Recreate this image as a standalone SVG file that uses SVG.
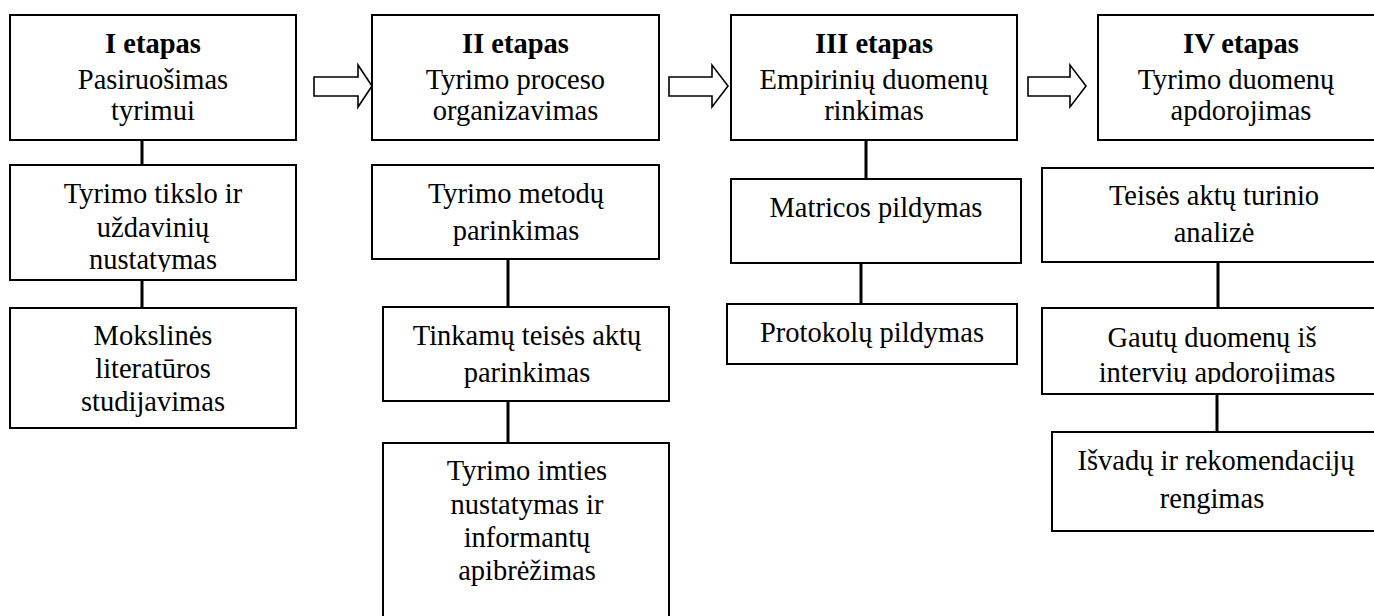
<svg xmlns="http://www.w3.org/2000/svg" width="1374" height="616" viewBox="0 0 1374 616">
<style>
.box{fill:#fff;stroke:#000;stroke-width:2}
.t{font-family:'Liberation Serif','DejaVu Serif',serif;font-size:28.5px;fill:#000;text-anchor:middle}
.b{font-weight:bold}
.c{stroke:#000;stroke-width:3;fill:none}
.arr{fill:#fff;stroke:#000;stroke-width:1.6;stroke-linejoin:miter}
</style>
<defs>
<clipPath id="clipA"><rect x="0" y="160" width="300" height="112"/></clipPath>
<clipPath id="clipB"><rect x="1040" y="305" width="340" height="79"/></clipPath>
</defs>
<rect width="1374" height="616" fill="#fff"/>
<g id="connectors">
<line class="c" x1="142" y1="140" x2="142" y2="165"/>
<line class="c" x1="142" y1="280" x2="142" y2="308"/>
<line class="c" x1="508" y1="259" x2="508" y2="307"/>
<line class="c" x1="508" y1="401" x2="508" y2="443"/>
<line class="c" x1="866" y1="140" x2="866" y2="179"/>
<line class="c" x1="861" y1="263" x2="861" y2="304"/>
<line class="c" x1="1218" y1="262" x2="1218" y2="308"/>
<line class="c" x1="1217" y1="394" x2="1217" y2="432"/>
<polygon class="arr" points="314,77 358,77 358,65 372,86 358,107 358,96 314,96"/>
<polygon class="arr" points="669,77 712,77 712,65 728,86 712,107 712,96 669,96"/>
<polygon class="arr" points="1028,77 1070,77 1070,65 1086,86 1070,107 1070,96 1028,96"/>
</g>
<g id="stage1">
<rect class="box" x="10" y="15" width="286" height="125"/>
<text class="t b" x="153" y="53">I etapas</text>
<text class="t" x="153" y="89">Pasiruošimas</text>
<text class="t" x="153" y="120">tyrimui</text>
</g>
<g id="stage1-a">
<rect class="box" x="10" y="165" width="286" height="115"/>
<g clip-path="url(#clipA)">
<text class="t" x="153" y="203">Tyrimo tikslo ir</text>
<text class="t" x="153" y="237">uždavinių</text>
<text class="t" x="153" y="269">nustatymas</text>
</g>
</g>
<g id="stage1-b">
<rect class="box" x="10" y="308" width="286" height="120"/>
<text class="t" x="153" y="345">Mokslinės</text>
<text class="t" x="153" y="378">literatūros</text>
<text class="t" x="153" y="411">studijavimas</text>
</g>
<g id="stage2">
<rect class="box" x="372" y="15" width="287" height="125"/>
<text class="t b" x="515.5" y="53">II etapas</text>
<text class="t" x="515.5" y="89">Tyrimo proceso</text>
<text class="t" x="515.5" y="120">organizavimas</text>
</g>
<g id="stage2-a">
<rect class="box" x="372" y="165" width="287" height="94"/>
<text class="t" x="516" y="203">Tyrimo metodų</text>
<text class="t" x="516" y="240">parinkimas</text>
</g>
<g id="stage2-b">
<rect class="box" x="383" y="307" width="286" height="94"/>
<text class="t" x="527" y="345">Tinkamų teisės aktų</text>
<text class="t" x="527" y="382">parinkimas</text>
</g>
<g id="stage2-c">
<rect class="box" x="383" y="443" width="286" height="200"/>
<text class="t" x="527" y="480">Tyrimo imties</text>
<text class="t" x="527" y="514">nustatymas ir</text>
<text class="t" x="527" y="547">informantų</text>
<text class="t" x="527" y="580">apibrėžimas</text>
</g>
<g id="stage3">
<rect class="box" x="731" y="15" width="286" height="125"/>
<text class="t b" x="874" y="53">III etapas</text>
<text class="t" x="874" y="89">Empirinių duomenų</text>
<text class="t" x="874" y="120">rinkimas</text>
</g>
<g id="stage3-a">
<rect class="box" x="731" y="179" width="290" height="84"/>
<text class="t" x="876" y="217">Matricos pildymas</text>
</g>
<g id="stage3-b">
<rect class="box" x="727" y="304" width="290" height="60"/>
<text class="t" x="872" y="342">Protokolų pildymas</text>
</g>
<g id="stage4">
<rect class="box" x="1098" y="15" width="290" height="125"/>
<text class="t b" x="1241" y="53">IV etapas</text>
<text class="t" x="1236" y="89">Tyrimo duomenų</text>
<text class="t" x="1241" y="120">apdorojimas</text>
</g>
<g id="stage4-a">
<rect class="box" x="1042" y="168" width="350" height="94"/>
<text class="t" x="1214" y="205">Teisės aktų turinio</text>
<text class="t" x="1214" y="242">analizė</text>
</g>
<g id="stage4-b">
<rect class="box" x="1042" y="308" width="350" height="86"/>
<g clip-path="url(#clipB)">
<text class="t" x="1212" y="347">Gautų duomenų iš</text>
<text class="t" x="1217" y="382">intervių apdorojimas</text>
</g>
</g>
<g id="stage4-c">
<rect class="box" x="1052" y="432" width="340" height="99"/>
<text class="t" x="1216" y="470">Išvadų ir rekomendacijų</text>
<text class="t" x="1212" y="508">rengimas</text>
</g>
</svg>
